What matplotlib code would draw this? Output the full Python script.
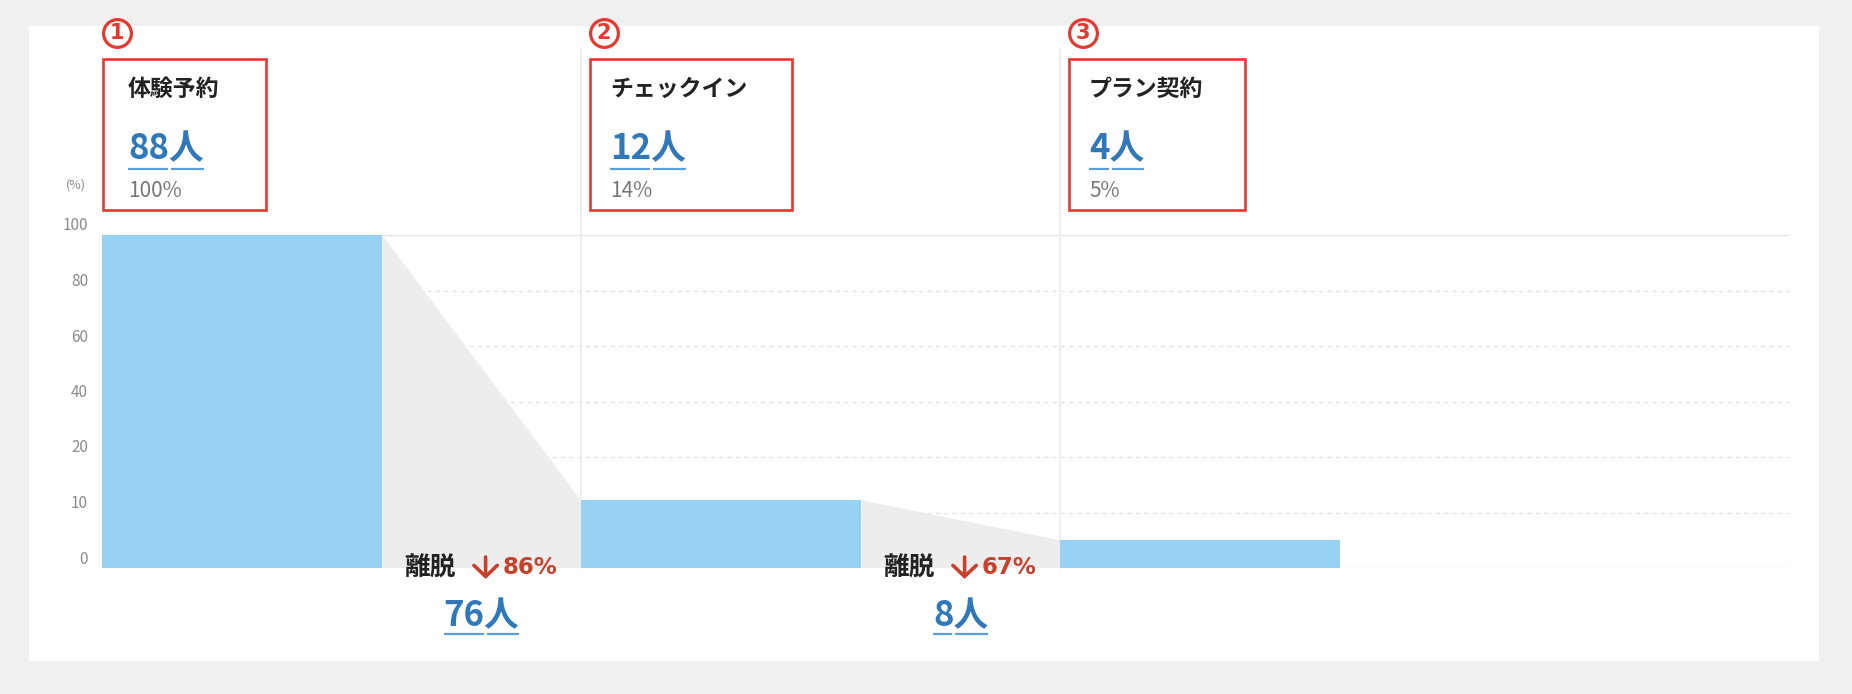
import numpy as np
import matplotlib.pyplot as plt
from matplotlib.patches import Rectangle
from matplotlib.lines import Line2D
from matplotlib.transforms import blended_transform_factory, ScaledTranslation, IdentityTransform

plt.rcParams['font.family'] = ['Noto Sans CJK JP', 'DejaVu Sans']

# data
stages = ['体験予約', 'チェックイン', 'プラン契約']
stage_nums = ['1', '2', '3']
counts = [88, 12, 4]
stage_pct = [100, 14, 5]
bar_values = [100, 12.2, 5.0]   # bar heights as drawn (%)
drop_counts = [76, 8]
drop_pct = [86, 67]
y_ticks = [0, 10, 20, 40, 60, 80, 100]

# colours
RED = '#e3392e'
DROP_RED = '#c8412b'
BLUE = '#2f78ba'
ULINE = '#5c9fd7'
BAR = '#98d2f3'
FUNNEL = '#ededed'
GRID = '#e4e4e4'

# layout (pixels of the 1852x694 output)
W, H = 1852, 694
AX_L, AX_R, AX_B, AX_T = 102, 1789, 568, 235
STEP = 479
BAR_W = 0.585


def fy(py):
    return (AX_B - py) / (AX_B - AX_T)


def dx(px):
    return px / STEP


def fwd(v):
    v = np.asarray(v, dtype=float)
    return np.where(v <= 20, v / 10, 2 + (v - 20) / 20)


def inv(p):
    p = np.asarray(p, dtype=float)
    return np.where(p <= 2, p * 10, 20 + (p - 2) * 20)


fig = plt.figure(figsize=(W / 100, H / 100), dpi=100, facecolor='#f0f0f0')
fig.add_artist(Rectangle((29 / W, 1 - 661 / H), (1819 - 29) / W, (661 - 26) / H,
                         transform=fig.transFigure, fc='white', ec='none', zorder=-1))

ax = fig.add_axes([AX_L / W, 1 - AX_B / H, (AX_R - AX_L) / W, (AX_B - AX_T) / H])
ax.set_facecolor('none')
ax.set_yscale('function', functions=(fwd, inv))
bt = blended_transform_factory(ax.transData, ax.transAxes)

x = np.arange(len(stages))
ax.bar(x, bar_values, width=BAR_W, align='edge', color=BAR, zorder=2)

# funnel shading between bars
for i in range(len(stages) - 1):
    x1, x2 = x[i] + BAR_W, x[i + 1]
    ax.fill([x1, x2, x2, x1], [bar_values[i], bar_values[i + 1], 0, 0],
            color=FUNNEL, lw=0, zorder=1)

# grid
for t in y_ticks:
    ls = '-' if t in (0, 100) else (0, (3, 3))
    ax.axhline(t, color=GRID, lw=1, ls=ls, zorder=0.5)
for i in x[1:]:
    ax.plot([i, i], [0, fy(48)], transform=bt, color='#ebebeb', lw=1.2,
            clip_on=False, zorder=0.6)

# stage boxes
box_w = [163, 202, 176]
box_dx = [1, 9, 9]
text_pad = [25, 20, 20]
number_texts = []
for i, name in enumerate(stages):
    bx = x[i] + dx(box_dx[i])
    ax.add_patch(Rectangle((bx, fy(210)), dx(box_w[i]), fy(59) - fy(210),
                           transform=bt, fill=False, ec=RED, lw=1.9, clip_on=False))
    # circled step number
    cx = bx + dx(14)
    ax.plot([cx], [fy(33)], transform=bt, marker='o', ms=20, mfc='none',
            mec=RED, mew=2.3, clip_on=False, zorder=5)
    ax.text(cx, fy(33), stage_nums[i], ha='center', va='center', color=RED,
            fontsize=15, weight='bold', family=['DejaVu Sans'], transform=bt)
    tx = bx + dx(text_pad[i])
    ax.text(tx, fy(89), name, ha='left', va='center', fontsize=16.5,
            weight='bold', color='#222222', transform=bt)
    t = ax.text(tx, fy(159), f'{counts[i]}人', ha='left', va='baseline',
                fontsize=25, weight='bold', color=BLUE, transform=bt)
    number_texts.append((t, str(counts[i]), 10))
    ax.text(tx, fy(197), f'{stage_pct[i]}%', ha='left', va='baseline',
            fontsize=15, color='#777777', transform=bt)

# drop-off labels
for j in range(len(drop_counts)):
    xc = (x[j] + BAR_W + x[j + 1]) / 2
    ax.text(xc - dx(26), 0, '離脱', ha='right', va='center', fontsize=18.5,
            weight='bold', color='#222222', transform=bt)
    ax.annotate('', xy=(xc + dx(4), fy(579)), xytext=(xc + dx(4), fy(557)),
                xycoords=bt, textcoords=bt, annotation_clip=False,
                arrowprops=dict(arrowstyle='->,head_length=0.4,head_width=0.42',
                                lw=2.6, color=DROP_RED, shrinkA=0, shrinkB=0,
                                mutation_scale=20))
    ax.text(xc + dx(21), 0, f'{drop_pct[j]}%', ha='left', va='center',
            fontsize=16.5, weight='bold', color=DROP_RED,
            family=['DejaVu Sans'], transform=bt)
    t = ax.text(xc, fy(626), f'{drop_counts[j]}人', ha='center', va='baseline',
                fontsize=25, weight='bold', color=BLUE, transform=bt)
    number_texts.append((t, str(drop_counts[j]), 8))

ax.text(-dx(16), fy(185), '(%)', ha='right', va='center', fontsize=9,
        color='#888888', transform=bt)

ax.set_xlim(0, (AX_R - AX_L) / STEP)
ax.set_ylim(0, 100)
ax.set_xticks([])
ax.set_yticks(y_ticks)
ax.set_yticklabels([str(t) for t in y_ticks])
ax.tick_params(axis='y', length=0, pad=10, labelsize=11, labelcolor='#8a8a8a')
for s in ax.spines.values():
    s.set_visible(False)
offset = ScaledTranslation(0, 11 / 100, fig.dpi_scale_trans)
for lab in ax.get_yticklabels():
    lab.set_transform(lab.get_transform() + offset)

# underlines under the counts (digits and 人 separately)
fig.canvas.draw()
r = fig.canvas.get_renderer()
for t, digits, below in number_texts:
    bb = t.get_window_extent(r)
    tmp = ax.text(0, 0, digits, fontsize=25, weight='bold')
    wd = tmp.get_window_extent(r).width
    tmp.remove()
    base_y = t.get_transform().transform(t.get_position())[1]
    y = base_y - below
    for xa, xb in [(bb.x0, bb.x0 + wd - 1), (bb.x0 + wd + 2, bb.x1)]:
        fig.add_artist(Line2D([xa, xb], [y, y], transform=IdentityTransform(),
                              color=ULINE, lw=1.6, solid_capstyle='butt'))

fig.savefig('out.png', dpi=100, facecolor=fig.get_facecolor())
